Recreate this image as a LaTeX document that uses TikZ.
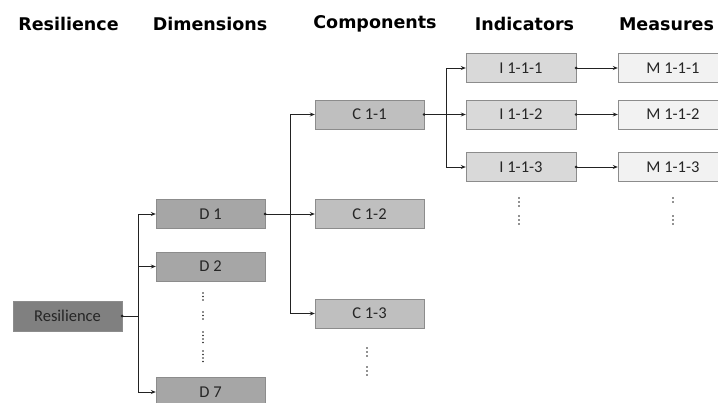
\documentclass[tikz,border=0pt]{standalone}
\usepackage{fontspec}
\setmainfont{Carlito}
\newfontfamily\titlefont{DejaVu Sans}
\usetikzlibrary{arrows.meta}
\definecolor{cR}{HTML}{808080}
\definecolor{cD}{HTML}{A6A6A6}
\definecolor{cC}{HTML}{BFBFBF}
\definecolor{cI}{HTML}{D9D9D9}
\definecolor{cM}{HTML}{F2F2F2}
\definecolor{txt}{HTML}{262626}
\definecolor{ln}{HTML}{222222}
\tikzset{
  box/.style={rectangle, minimum width=109pt, minimum height=29pt, inner sep=0pt,
    font=\fontsize{16.5}{18}\selectfont, text=txt, draw=black!45, line width=0.4pt},
  title/.style={font=\titlefont\bfseries\fontsize{17.5}{20}\selectfont, text=black},
  conn/.style={draw=ln, line width=0.9pt},
  arr/.style={conn, -{Stealth[length=5pt,width=4pt]}},
  startdot/.style={fill=ln, draw=none, circle, minimum size=3pt, inner sep=0pt}
}
\newcommand{\dotcol}[4]{% x, y start, number of dots, spacing
  \foreach \k in {1,...,#3}{\fill[ln] (#1,{#2+(\k-1)*#4}) circle (0.9pt);}}
\begin{document}
\begin{tikzpicture}[x=1pt,y=-1pt]
\useasboundingbox (0,0) rectangle (718,403);
\begin{scope}
\clip (0,0) rectangle (718,403);
% titles
\node[title] (t1) at (68.5,24) {Resilience};
\node[title] (t2) at (210,24) {Dimensions};
\node[title] (t3) at (375,24) {Components};
\node[title] (t4) at (524.5,24) {Indicators};
\node[title] (t5) at (666.5,24) {Measures};
% boxes
\node[box, fill=cR, minimum height=30pt] (res) at (67.5,316) {Resilience};
\node[box, fill=cD] (d1) at (210.5,214) {D 1};
\node[box, fill=cD] (d2) at (210.5,266.5) {D 2};
\node[box, fill=cD, minimum height=30pt] (d7) at (210.5,392) {D 7};
\node[box, fill=cC] (c1) at (369.5,114.5) {C 1-1};
\node[box, fill=cC] (c2) at (369.5,214) {C 1-2};
\node[box, fill=cC] (c3) at (369.5,313.5) {C 1-3};
\node[box, fill=cI, minimum width=110pt] (i1) at (521,68) {I 1-1-1};
\node[box, fill=cI, minimum width=110pt] (i2) at (521,114.5) {I 1-1-2};
\node[box, fill=cI, minimum width=110pt] (i3) at (521,167) {I 1-1-3};
\node[box, fill=cM, minimum width=110pt] (m1) at (673,68) {M 1-1-1};
\node[box, fill=cM, minimum width=110pt] (m2) at (673,114.5) {M 1-1-2};
\node[box, fill=cM, minimum width=110pt] (m3) at (673,167) {M 1-1-3};
% junctions
\coordinate (j1) at (138,316);
\coordinate (j2) at (290,214);
\coordinate (j3) at (446,114.5);
% Resilience -> D
\node[startdot] (sr) at (res.east) {};
\draw[conn] (res.east) -- (j1);
\draw[arr] (j1) |- (d1.west);
\draw[arr] (j1) |- (d2.west);
\draw[arr] (j1) |- (d7.west);
% D1 -> C
\node[startdot] (sd) at (d1.east) {};
\draw[arr] (d1.east) -- (c2.west);
\draw[arr] (j2) |- (c1.west);
\draw[arr] (j2) |- (c3.west);
% C1-1 -> I
\node[startdot] (sc) at (c1.east) {};
\draw[arr] (c1.east) -- (i2.west);
\draw[arr] (j3) |- (i1.west);
\draw[arr] (j3) |- (i3.west);
% I -> M
\node[startdot] (si1) at (i1.east) {};
\node[startdot] (si2) at (i2.east) {};
\node[startdot] (si3) at (i3.east) {};
\draw[arr] (i1.east) -- (m1.west);
\draw[arr] (i2.east) -- (m2.west);
\draw[arr] (i3.east) -- (m3.west);
% vertical ellipses
\dotcol{203}{293}{3}{3.5}
\dotcol{203}{312}{3}{3.5}
\dotcol{203}{332}{4}{3.5}
\dotcol{203}{351}{4}{3.5}
\dotcol{367}{348}{3}{4}
\dotcol{367}{367}{3}{4}
\dotcol{519}{198}{3}{4}
\dotcol{519}{216}{3}{4}
\dotcol{673}{198}{2}{4}
\dotcol{673}{216}{3}{4}
\end{scope}
\end{tikzpicture}
\end{document}
